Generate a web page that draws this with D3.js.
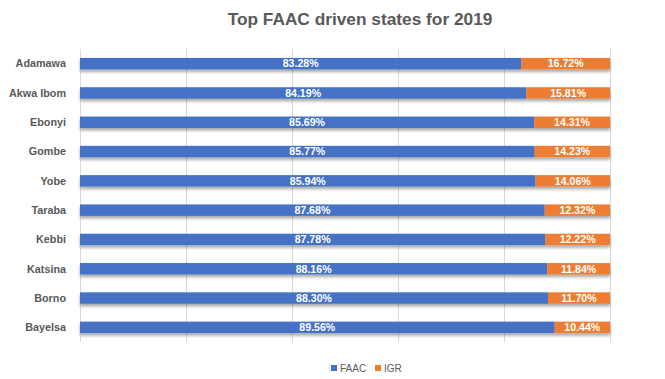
<!DOCTYPE html>
<html><head><meta charset="utf-8">
<script src="https://cdn.jsdelivr.net/npm/d3@7"></script>
<style>body{margin:0;background:#fff}svg{display:block}</style>
</head><body>
<script>
const states = ["Adamawa","Akwa Ibom","Ebonyi","Gombe","Yobe","Taraba","Kebbi","Katsina","Borno","Bayelsa"];
const faac = [83.28,84.19,85.69,85.77,85.94,87.68,87.78,88.16,88.30,89.56];
const igr = [16.72,15.81,14.31,14.23,14.06,12.32,12.22,11.84,11.70,10.44];
const seriesNames = ["FAAC","IGR"];
const colors = ["#4472C4","#ED7D31"];
const xTicks = [0,20,40,60,80,100];

const W=665,H=379;
const m={left:80,right:55,top:49,bottom:36};
const svg=d3.select("body").append("svg").attr("width",W).attr("height",H);
const defs=svg.append("defs");
const f=defs.append("filter").attr("id","sh").attr("x","-5%").attr("y","-50%").attr("width","110%").attr("height","220%");
f.append("feDropShadow").attr("dx",0).attr("dy",2.5).attr("stdDeviation",1.5).attr("flood-color","#000").attr("flood-opacity",0.35);

const x=d3.scaleLinear().domain([0,100]).range([m.left,W-m.right]);
const y=d3.scaleBand().domain(states).range([m.top,H-m.bottom-1]).paddingInner(0.61).paddingOuter(0.305);

svg.append("text").attr("x",360).attr("y",25).attr("text-anchor","middle")
  .attr("font-family","Liberation Sans, Arial, sans-serif").attr("font-weight","bold")
  .attr("font-size","17.3px").attr("fill","#595959").text("Top FAAC driven states for 2019");

// gridlines
svg.append("g").selectAll("line").data(xTicks).join("line")
  .attr("x1",d=>Math.round(x(d))+0.5).attr("x2",d=>Math.round(x(d))+0.5)
  .attr("y1",m.top).attr("y2",H-m.bottom-1)
  .attr("stroke","#d9d9d9").attr("stroke-width",1);

// category labels
svg.append("g").selectAll("text").data(states).join("text")
  .attr("x",66).attr("y",d=>y(d)+y.bandwidth()/2).attr("dy","0.35em")
  .attr("text-anchor","end").attr("font-family","Liberation Sans, Arial, sans-serif")
  .attr("font-weight","bold").attr("font-size","10.8px").attr("fill","#595959").text(d=>d);

const rows=states.map((s,i)=>({s,v:[faac[i],igr[i]]}));
const g=svg.append("g").attr("filter","url(#sh)");
rows.forEach(r=>{
  let acc=0;
  r.v.forEach((v,j)=>{
    g.append("rect").attr("x",x(acc)).attr("width",x(acc+v)-x(acc))
      .attr("y",y(r.s)).attr("height",y.bandwidth()).attr("fill",colors[j]);
    acc+=v;
  });
});
const lg=svg.append("g");
rows.forEach(r=>{
  let acc=0;
  r.v.forEach((v,j)=>{
    lg.append("text").attr("x",(x(acc)+x(acc+v))/2).attr("y",y(r.s)+y.bandwidth()/2).attr("dy","0.36em")
      .attr("text-anchor","middle").attr("font-family","Liberation Sans, Arial, sans-serif")
      .attr("font-weight","bold").attr("font-size","10.6px").attr("fill","#fff").text(v.toFixed(2)+"%");
    acc+=v;
  });
});

// legend
const leg=svg.append("g");
const lx=[331,375];
seriesNames.forEach((n,i)=>{
  leg.append("rect").attr("x",lx[i]).attr("y",365).attr("width",6).attr("height",6).attr("fill",colors[i]);
  leg.append("text").attr("x",lx[i]+9).attr("y",368).attr("dy","0.35em")
    .attr("font-family","Liberation Sans, Arial, sans-serif").attr("font-size","10px").attr("fill","#595959").text(n);
});
</script>
</body></html>
